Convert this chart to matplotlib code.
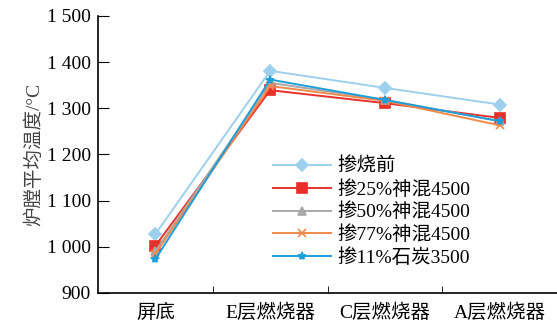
import matplotlib.pyplot as plt
from matplotlib.ticker import FixedLocator, FuncFormatter

plt.rcParams['font.family'] = ['Liberation Serif', 'Noto Sans CJK SC']

positions = ["屏底", "E层燃烧器", "C层燃烧器", "A层燃烧器"]
series_names = ["掺烧前", "掺25%神混4500", "掺50%神混4500", "掺77%神混4500", "掺11%石炭3500"]
before = [1027, 1381, 1344, 1308]
shenhun_25 = [1002, 1339, 1311, 1279]
shenhun_50 = [990, 1355, 1318, 1272]
shenhun_77 = [985, 1348, 1316, 1263]
shitan_11 = [973, 1362, 1318, 1272]

styles = [
    dict(color="#9dd0ec", marker="D", ms=6),
    dict(color="#e8302a", marker="s", ms=7),
    dict(color="#a8a8a8", marker="^", ms=6),
    dict(color="#f0894a", marker="x", ms=6),
    dict(color="#1e9fd9", marker="*", ms=6),
]
data = [before, shenhun_25, shenhun_50, shenhun_77, shitan_11]

fig = plt.figure(figsize=(5.57, 3.24), dpi=100)
ax = fig.add_axes([0.176, 0.096, 0.824, 0.855])

x = list(range(len(positions)))
for name, vals, st in zip(series_names, data, styles):
    ax.plot(x, vals, label=name, lw=1.4, color=st["color"], marker=st["marker"],
            markersize=st["ms"], mew=1.2)

ax.set_xlim(-0.5, 3.5)
ax.set_ylim(900, 1500)
ax.set_yticks(range(900, 1501, 100))
ax.yaxis.set_major_formatter(FuncFormatter(
    lambda v, p: f"{int(v):,}".replace(",", " ")))
ax.set_xticks(x)
ax.set_xticklabels(positions)
ax.xaxis.set_minor_locator(FixedLocator([0.5, 1.5, 2.5]))
ax.tick_params(axis="x", which="major", length=0, pad=8, labelsize=14)
ax.tick_params(axis="x", which="minor", direction="in", length=5)
ax.tick_params(axis="y", direction="in", length=8, labelsize=14, pad=5)

for s in ["top", "right"]:
    ax.spines[s].set_visible(False)
ax.spines["left"].set_linewidth(1.2)
ax.spines["bottom"].set_linewidth(1.2)

ax.set_ylabel("炉膛平均温度/°C", fontsize=14, color="#444444", labelpad=3)

ax.legend(loc="lower left", bbox_to_anchor=(0.36, 0.06), frameon=False,
          fontsize=14, handlelength=3.0, labelspacing=0.2, borderpad=0,
          handletextpad=0.3)

fig.savefig("out.png", dpi=100)
